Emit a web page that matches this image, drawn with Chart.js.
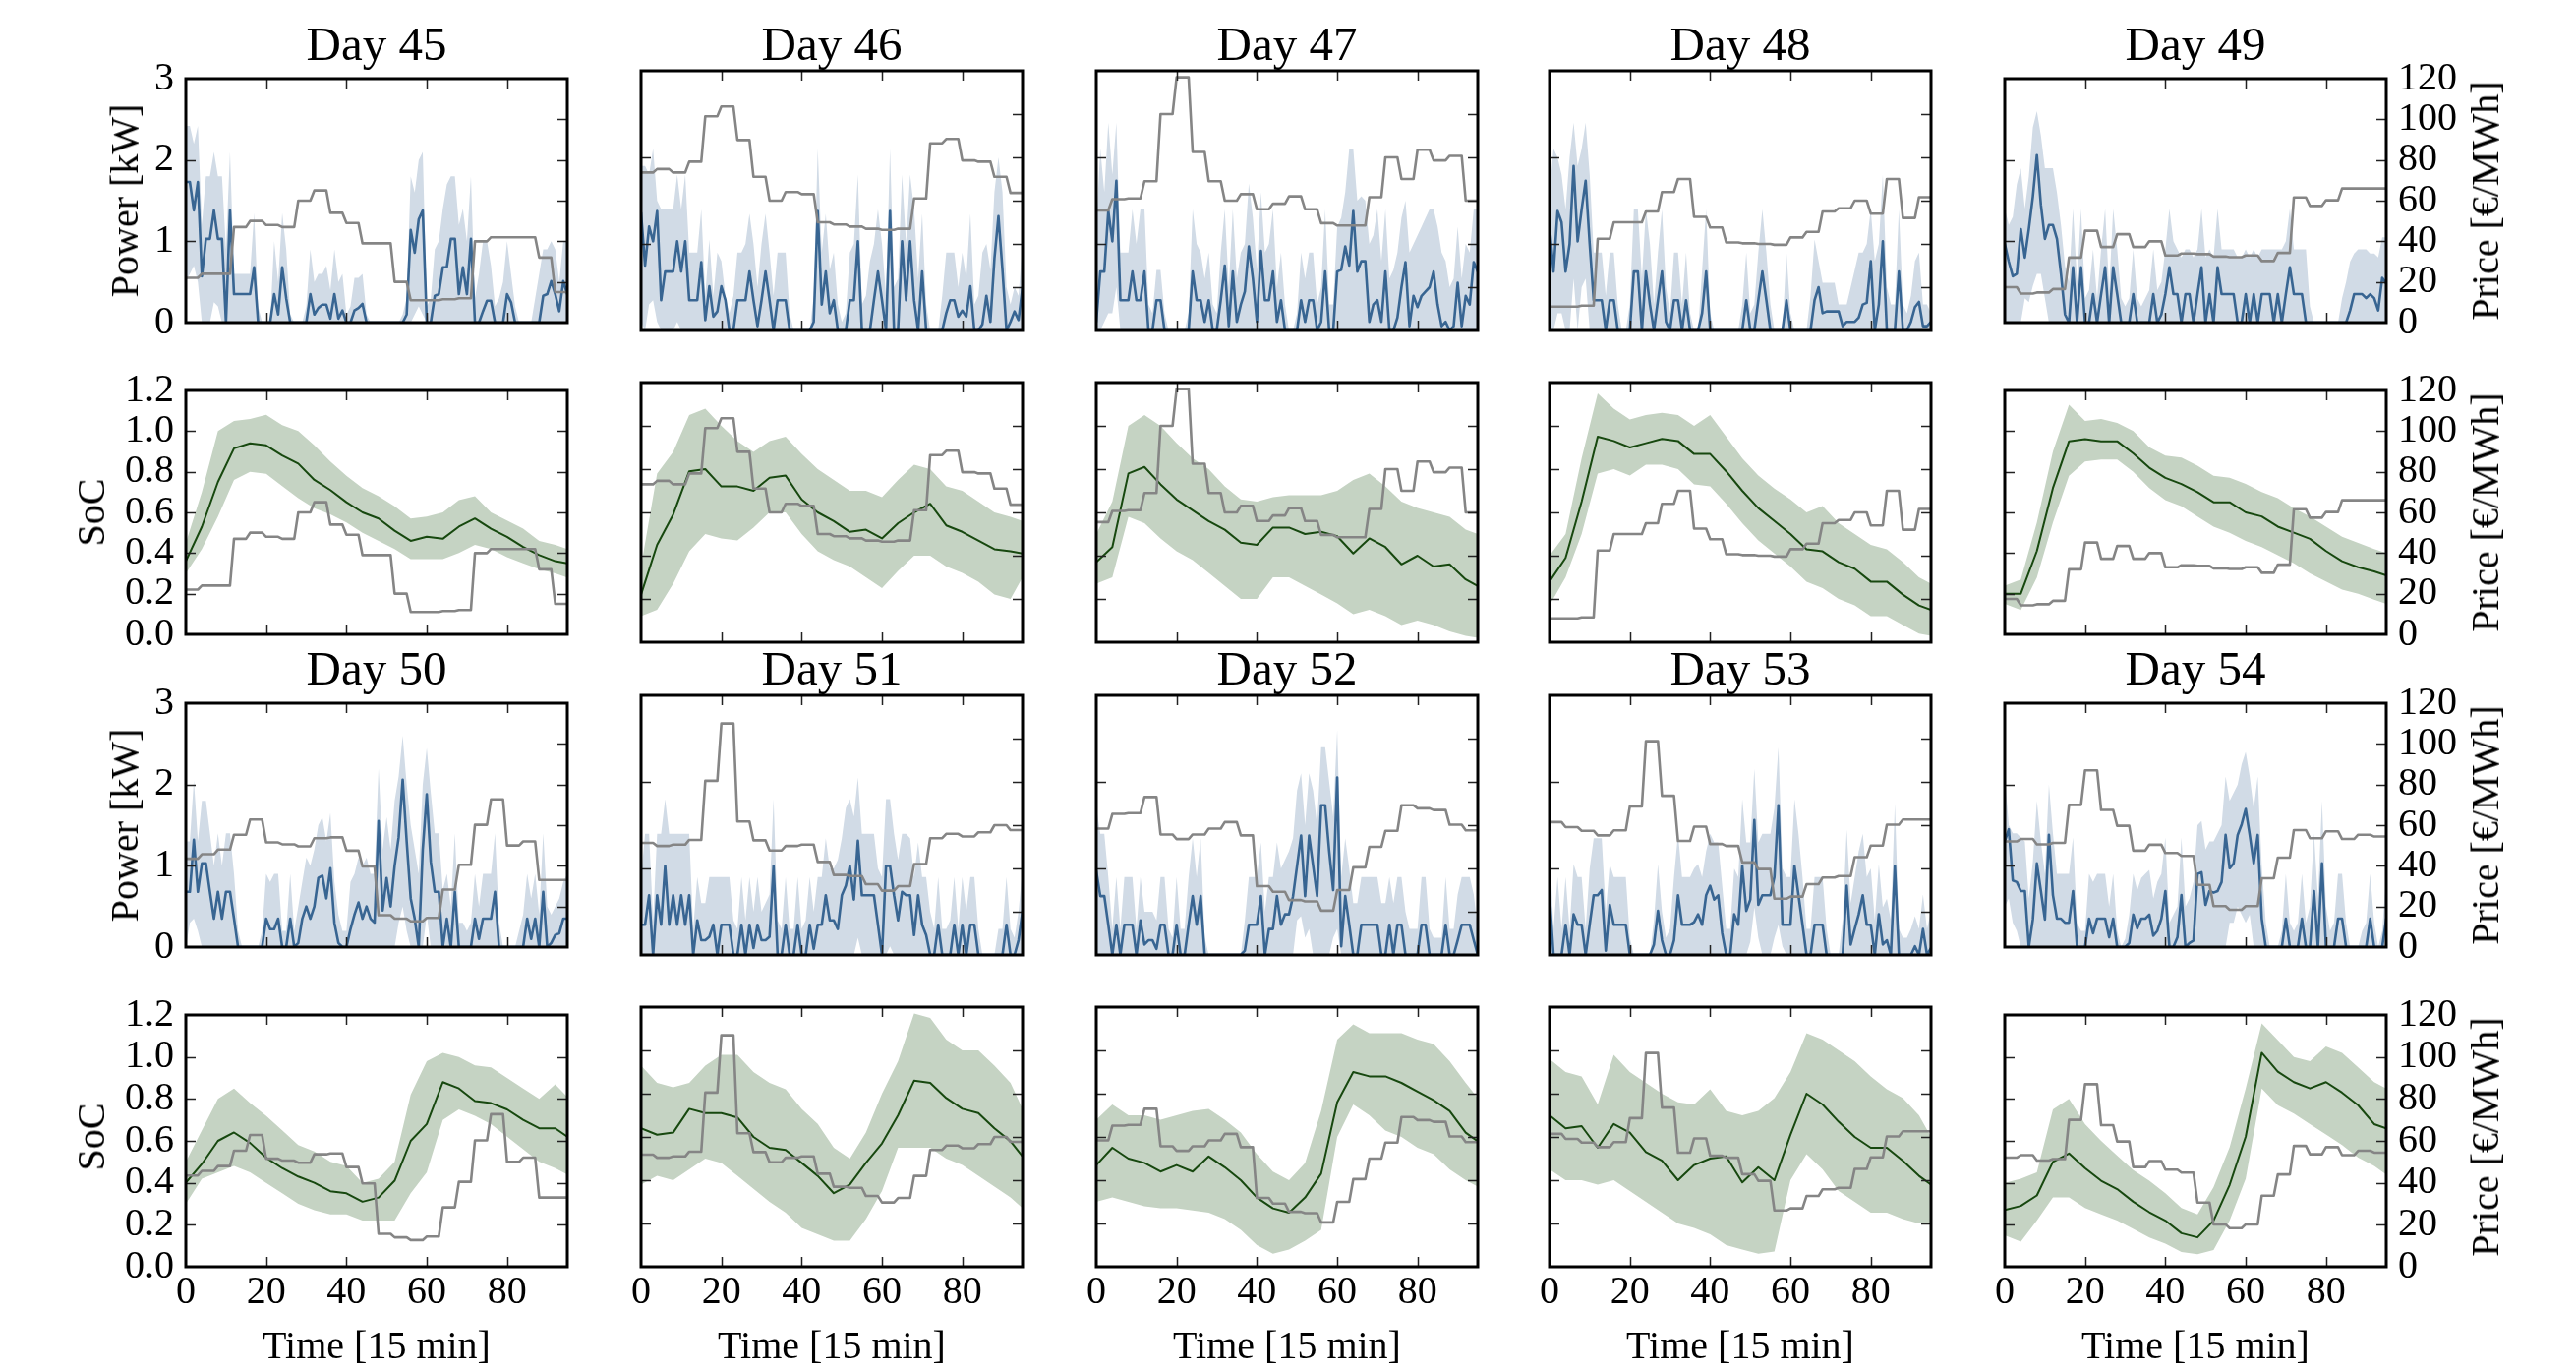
<!DOCTYPE html>
<html>
<head>
<meta charset="utf-8">
<script src="https://cdn.jsdelivr.net/npm/chart.js@4.4.1/dist/chart.umd.min.js"></script>
<style>
html, body { margin: 0; padding: 0; background: #fff; }
#fig { position: relative; width: 2620px; height: 1395px; overflow: hidden;
       font-family: 'Liberation Serif', 'Times New Roman', serif; color: #000; }
#fig canvas { position: absolute; }
.txt { position: absolute; white-space: nowrap; line-height: 1; transform: translate(-50%, -50%); }
.rot { transform: translate(-50%, -50%) rotate(-90deg); }
.ttl { font-size: 49px; }
.lbl { font-size: 40px; }
</style>
</head>
<body>
<div id="fig"></div>
<script>
// ---- data ----
// quarter-hour index for the SoC samples
const socX = [0,4,8,12,16,20,24,28,32,36,40,44,48,52,56,60,64,68,72,76,80,84,88,92,95];

// hourly prices [EUR/MWh]
const price45 = [22,24,24,47,50,48,47,60,65,54,49,39,39,20,11,11,11.5,12,40,42,42,42,32,15];
const price46 = [73,74.6,73,78,99,103.5,88,71,60,64,63,50,49,48,47,46.5,47,61,86.5,88.5,78.6,78,71,63.6];
const price47 = [55.5,60.7,61,69,100,117,82.5,69,60,63,56,58.6,62,56,49.6,48.5,48.5,61.6,80,70,83.5,78.6,80.7,60];
const price48 = [11,11,11.5,42.4,50,50,55,64,70,52.5,47.6,40.7,40.3,40,39.6,43,45.6,55,56.5,60,54,70,52,61.6];
const price49 = [17.4,14.3,14.8,16.5,32,45.2,37.2,43.5,37.2,40,33,34,33.7,32.5,32.2,33,30.3,34.3,61.6,57.4,60.2,66,66,66];
const price50 = [43.5,45.7,48,55.3,62.8,51.5,50.6,49.6,53.6,54,47.5,39.7,15.7,14,12.7,14.4,28.3,40.5,60.2,72.7,50,52,33,33];
const price51 = [51.8,50.4,51,53.2,80.5,107,61.7,53,48.3,50.4,51,43,37,36.5,32.7,29.7,31.8,42,54,56,54.8,56.7,60,57.7];
const price52 = [58.4,65.2,65.6,73,55.7,53.6,55.7,58.4,61.4,55.3,31.8,29.2,25.4,24.8,20.5,30,40.5,50,57.4,69.2,67.8,67,60.2,57.6];
const price53 = [61.4,59.1,57.4,55.3,57.6,68.7,98.8,73.6,52.7,59.3,51.3,50.4,42.8,39.7,26,27,32.7,35.8,36.5,45.2,50.6,60.2,62.6,62.6];
const price54 = [52,53.2,50.6,51.3,70,87,67.5,59.7,47.5,50.4,46.3,44.9,30.6,20.2,18.4,20.2,33.9,44,57.6,53.6,57,53.2,55.3,54.4];

// power [kW], mean and band, one value per quarter hour
const pow45 = [
1.73,1.73,1.38,1.73,0.57,1.03,1.03,1.38,1.03,1.03,0,1.38,
0.35,0.35,0.35,0.35,0.35,0.68,0,0,0,0,0.35,0.1,
0.68,0.3,0,0,0,0,0,0.35,0.1,0.18,0.22,0.22,
0.05,0.35,0.05,0.15,0,0,0.15,0.18,0.23,0,0,0,
0,0,0,0,0,0,0,0.1,1.14,0.86,1.27,1.38,
0,0,0.33,0.35,0.68,0.68,1.03,1.03,0.35,0.68,0.35,1.03,
0,0,0.14,0.27,0.27,0,0,0,0.35,0.25,0,0,
0,0,0,0,0,0.33,0.35,0.51,0.35,0.14,0.51,0.35];
const powHi45 = [
2.42,2.42,2.2,2.42,1.2,1.8,1.8,2.1,1.8,1.8,0.9,2.1,
0.6,0.6,0.6,0.6,0.6,1.35,0.2,0,0,0,1.0,0.5,
1.35,0.9,0.1,0,0,0,0.2,0.9,0.5,0.6,0.6,0.7,
0.4,0.9,0.5,0.6,0.1,0.2,0.55,0.55,0.6,0.1,0,0,
0,0,0,0,0,0,0.1,0.3,1.8,1.6,2.0,2.1,
0.2,0.3,0.9,1.0,1.4,1.7,1.8,1.8,1.2,1.4,1.0,1.8,
0.3,0.6,1.0,1.0,0.7,0.2,0.3,0.5,1.0,0.6,0.2,0,
0,0,0,0.3,0.6,0.9,0.9,1.0,0.9,0.5,1.0,1.0];
const powLo45 = [
0.5,0.6,0.7,0.5,0,0,0,0.25,0.2,0,0,0,
0,0,0,0,0,0,0,0,0,0,0,0,
0,0,0,0,0,0,0,0,0,0,0,0,
0,0,0,0,0,0,0,0,0,0,0,0,
0,0,0,0,0,0,0,0,0,0.1,0.2,0.1,
0,0,0,0,0,0,0,0,0,0,0,0,
0,0,0,0,0,0,0,0,0,0,0,0,
0,0,0,0,0,0,0,0,0,0,0,0];

const pow46 = [
1.36,0.75,1.2,1.03,1.38,0.35,0.68,0.68,0.68,1.03,0.68,1.03,
0.35,0.35,0.35,0.79,0.12,0.51,0.16,0.22,0.51,0.35,0,0,
0.35,0.35,0.35,0.68,0.35,0.05,0.35,0.68,0.35,0,0.35,0.35,
0.35,0,0,0,0,0,0,0.1,1.38,0.3,0.68,0.2,
0.35,0,0,0,0.35,0.35,1.03,0,0,0,0.35,0.68,
0.35,0,1.38,0,0,1.03,0.35,1.03,0.35,0,0.68,0,
0,0,0,0,0.2,0.35,0.35,0.16,0.23,0.16,0.51,0,
0,0.07,0.4,0.1,0.83,1.32,0.7,0,0.1,0.22,0.12,0.5];
const powHi46 = [
1.9,1.9,1.8,2.1,1.5,1.4,1.4,1.4,1.4,1.8,1.4,1.8,
0.9,0.9,0.9,1.4,0.4,1.05,0.4,0.9,0.8,0.4,0.2,0.4,
0.9,0.9,1.0,1.35,1.0,0.5,1.0,1.35,0.9,0.4,0.9,0.9,
0.9,0.2,0,0,0,0,0,0.4,2.1,0.9,1.35,0.7,
0.9,0.3,0.1,0.2,0.9,1.0,1.8,0.3,0.4,0.8,1.0,1.4,
1.0,0.4,2.1,0.5,0.6,1.8,1.0,1.8,1.4,0.6,1.35,0.3,
0,0,0,0.4,0.9,0.9,0.9,0.5,0.9,0.6,1.35,0.3,
0.4,0.9,1.0,0.7,1.6,2.0,1.6,0.5,0.3,0.5,0.4,1.0];
const powLo46 = [
0.1,0,0.3,0.35,0.1,0,0,0,0,0.1,0,0,
0,0,0,0,0,0,0,0,0,0,0,0,
0,0,0,0,0,0,0,0,0,0,0,0,
0,0,0,0,0,0,0,0,0,0,0,0,
0,0,0,0,0,0,0,0,0,0,0,0,
0,0,0,0,0,0,0,0,0,0,0,0,
0,0,0,0,0,0,0,0,0,0,0,0,
0,0,0,0,0,0,0,0,0,0,0,0];

const pow47 = [
0.1,0.68,0.68,1.38,1.03,1.73,0.35,0.35,0.35,0.68,0.35,0.35,
0.68,0,0,0.35,0.35,0,0,0,0,0,0,0,
0.68,0.35,0.35,0.1,0.35,0,0,0.35,0.75,0.05,0.68,0.1,
0.3,0.45,0.97,0.6,0.1,0.92,0.35,0.35,0.68,0.1,0.35,0,
0,0,0,0.35,0.1,0.35,0.35,0,0.1,0.68,0,0,
0.68,0.7,0.97,0.75,1.38,0.68,0.8,0.8,0.1,0.3,0.35,0.1,
0.68,0,0,0.15,0.5,0.79,0.05,0.4,0.27,0.4,0.45,0.5,
0.68,0.3,0.05,0.1,0,0.05,0.55,0.05,0.4,0.3,0.79,0.68];
const powHi47 = [
1.2,2.1,1.6,2.4,1.8,2.4,0.9,0.9,0.9,1.4,1.0,1.4,
1.4,0.3,0.2,0.7,0.7,0.2,0,0,0,0,0,0.2,
1.4,1.0,0.9,0.6,0.9,0.3,0.2,0.9,1.4,0.5,1.4,0.6,
0.9,1.0,1.7,1.3,0.7,1.6,0.9,1.0,1.4,0.5,0.9,0.3,
0,0,0.2,0.9,0.6,0.9,0.9,0.3,0.5,1.4,0.3,0.3,
1.2,1.3,1.6,2.1,2.1,1.5,1.55,1.5,1.0,1.1,1.4,0.8,
1.4,0.6,0.7,0.9,1.3,1.5,0.9,1.0,1.1,1.2,1.3,1.4,
1.4,1.2,0.9,0.8,0.5,0.6,1.2,0.6,1.0,0.9,1.4,1.4];
const powLo47 = [
0,0,0.1,0.2,0.2,0.5,0,0,0,0,0,0,
0,0,0,0,0,0,0,0,0,0,0,0,
0,0,0,0,0,0,0,0,0,0,0,0,
0,0,0,0,0,0,0,0,0,0,0,0,
0,0,0,0,0,0,0,0,0,0,0,0,
0,0,0,0,0,0,0,0,0,0,0,0,
0,0,0,0,0,0,0,0,0,0,0,0,
0,0,0,0,0,0,0,0,0,0,0,0];

const pow48 = [
1.2,0.68,1.38,1.25,0.68,1.0,1.9,1.03,1.4,1.73,1.0,0.35,
0.35,0.35,0,0.35,0.35,0,0,0,0,0.68,0.68,0,
0.68,0.3,0,0.35,0.68,0.1,0,0.35,0.35,0,0.35,0,
0,0,0.2,0.68,0,0,0,0,0,0,0,0,
0,0.35,0,0,0.35,0.68,0.35,0,0,0,0,0.35,
0,0,0,0,0,0,0.35,0.5,0.2,0.22,0.22,0.22,
0.22,0.05,0.1,0.1,0.1,0.15,0.3,0.32,0.8,0,0.3,1.03,
0,0,0,0.68,0,0,0.1,0.27,0.33,0.05,0.05,0.1];
const powHi48 = [
1.6,2.1,2.0,1.8,1.4,2.0,2.4,1.9,2.1,2.4,1.8,0.9,
0.9,0.9,0.4,0.9,0.9,0.3,0,0,0.3,1.4,1.4,0.6,
1.4,1.0,0.3,0.9,1.4,0.5,0.2,0.9,0.9,0.3,0.9,0.2,
0,0,0.7,1.4,0.2,0,0,0,0,0,0,0,
0.3,0.9,0.2,0.3,0.9,1.4,0.9,0.3,0,0,0,0.9,
0.2,0,0,0,0,0.4,1.05,0.8,0.55,0.55,0.55,0.55,
0.3,0.3,0.3,0.5,0.7,0.9,0.9,1.0,1.4,0.8,1.0,1.8,
0.5,0.3,0.3,1.4,0.3,0.2,0.4,0.8,0.9,0.3,0.3,0.2];
const powLo48 = [
0,0,0.2,0.2,0,0,0.6,0,0.5,0.6,0,0,
0,0,0,0,0,0,0,0,0,0,0,0,
0,0,0,0,0,0,0,0,0,0,0,0,
0,0,0,0,0,0,0,0,0,0,0,0,
0,0,0,0,0,0,0,0,0,0,0,0,
0,0,0,0,0,0,0,0,0,0,0,0,
0,0,0,0,0,0,0,0,0,0,0,0,
0,0,0,0,0,0,0,0,0,0,0,0];

const pow49 = [
0.97,0.75,0.57,0.6,1.15,0.8,1.15,1.55,2.06,1.45,1.03,1.2,
1.2,1.03,0.6,0.1,0,0.68,0,0.68,0,0,0.35,0,
0.35,0.68,0,0.68,0.35,0,0,0,0.35,0,0,0,
0,0.35,0,0.1,0.35,0.68,0.35,0.35,0,0.35,0.35,0,
0.35,0.68,0,0.35,0,0.68,0.35,0.35,0.35,0.35,0,0,
0.35,0,0.35,0,0.35,0.35,0.35,0,0.35,0,0.35,0.68,
0.35,0.35,0.35,0,0,0,0,0,0,0,0,0,
0,0,0.15,0.35,0.35,0.35,0.3,0.35,0.3,0.15,0.55,0.48];
const powHi49 = [
1.4,1.2,1.3,1.7,1.9,1.4,1.8,2.4,2.6,2.3,1.9,1.9,
1.9,1.6,1.2,0.7,0.5,1.4,0.5,1.4,0.3,0.4,0.9,0.3,
0.9,1.4,0.4,1.4,0.9,0.3,0.2,0.3,0.9,0.3,0.2,0.3,
0.4,0.9,0.4,0.5,0.9,1.4,1.0,0.9,0.8,0.9,0.9,0.8,
0.9,1.4,0.8,0.9,0.8,1.4,0.9,0.9,0.9,0.9,0.8,0.8,
0.9,0.8,0.9,0.8,0.9,0.9,0.9,0.9,0.9,0.9,1.0,1.4,
0.9,0.9,0.9,0.9,0.2,0,0,0,0,0,0,0,
0.3,0.5,0.75,0.85,0.9,0.9,0.9,0.85,0.85,0.8,1.05,1.05];
const powLo49 = [
0,0,0,0,0,0.3,0.25,0.45,0.6,0.6,0.3,0,
0,0,0,0,0,0,0,0,0,0,0,0,
0,0,0,0,0,0,0,0,0,0,0,0,
0,0,0,0,0,0,0,0,0,0,0,0,
0,0,0,0,0,0,0,0,0,0,0,0,
0,0,0,0,0,0,0,0,0,0,0,0,
0,0,0,0,0,0,0,0,0,0,0,0,
0,0,0,0,0,0,0,0,0,0,0,0];

const pow50 = [
0.68,0.68,1.32,0.68,1.03,1.03,0.68,0.35,0.68,0.35,0.68,0.68,
0.35,0,0,0,0,0,0,0,0.35,0.22,0.22,0.35,
0,0,0.35,0,0.05,0.35,0.5,0.35,0.5,0.85,0.88,0.6,
0.97,0.3,0.05,0,0,0.22,0.4,0.55,0.35,0.5,0.35,0.3,
1.55,0.45,0.85,0.5,1.0,1.35,2.06,1.3,0.6,0.35,0,1.2,
1.88,1.05,0.68,0.68,0,0.35,0,0.68,0,0,0,0,
0.35,0.1,0.35,0.35,0.35,0.68,0,0,0,0,0,0,
0,0.35,0.1,0.35,0,0.68,0,0.05,0.15,0.17,0.35,0.35];
const powHi50 = [
1.3,1.3,2.05,1.3,1.8,1.8,1.4,1.0,1.4,1.0,1.4,1.4,
0.9,0.2,0,0,0,0,0,0.2,0.9,0.8,0.9,0.9,
0.2,0.2,0.9,0.2,0.5,0.8,1.1,1.0,1.2,1.5,1.6,1.3,
1.65,0.8,0.4,0.2,0.2,0.8,0.9,1.1,1.0,1.1,0.9,0.9,
2.2,1.2,1.6,1.2,1.8,2.1,2.6,2.0,1.5,1.2,0.9,2.0,
2.45,1.9,1.4,1.4,0.7,0.9,0.5,1.4,0.3,0.3,0.2,0.3,
0.9,0.5,0.9,0.9,0.9,1.4,0.3,0,0,0,0,0.2,
0.4,0.9,0.6,0.9,0.4,1.4,0.5,0.4,0.5,0.6,0.8,0.9];
const powLo50 = [
0,0.3,0.35,0.2,0,0,0,0,0,0,0,0,
0,0,0,0,0,0,0,0,0,0,0,0,
0,0,0,0,0,0,0,0,0,0,0,0,
0,0,0,0,0,0,0,0,0,0,0,0,
0,0,0,0,0,0.3,0.5,0.2,0,0,0,0,
0.4,0,0,0,0,0,0,0,0,0,0,0,
0,0,0,0,0,0,0,0,0,0,0,0,
0,0,0,0,0,0,0,0,0,0,0,0];

const pow51 = [
0.35,0.35,0.69,0,0.69,0.35,1.03,0.35,0.69,0.35,0.69,0.35,
0.69,0,0.4,0.17,0.17,0.21,0.35,0,0.35,0.35,0.35,0,
0,0.35,0,0.35,0.08,0.35,0.17,0.17,0.21,1.03,0,0,
0.35,0,0,0.35,0,0,0.35,0.07,0.35,0.35,0.69,0.4,
0.4,0.3,0.69,0.8,1.03,0.64,1.32,0.69,0.69,0.69,0.69,0.35,
0,1.03,1.03,0.69,0.4,0.73,0.69,0.69,0.23,0.69,0.35,0.23,
0,0,0.35,0,0,0,0.35,0,0.35,0,0.35,0.35,
0,0,0,0,0,0,0,0.35,0,0,0.17,0.51];
const powHi51 = [
0.9,1.4,1.4,0.4,1.4,1.4,1.8,1.4,1.4,1.4,1.4,1.4,
1.4,0.3,0.9,0.6,0.6,0.9,0.9,0.9,0.9,0.9,0.9,0.4,
0.3,0.9,0.4,0.9,0.5,0.9,0.5,0.6,0.7,1.8,0.4,0.3,
0.9,0.3,0.3,0.9,0.3,0.4,0.9,0.5,0.9,0.9,1.35,1.0,
1.0,1.1,1.35,1.7,1.8,1.6,2.05,1.4,1.4,1.4,1.4,1.0,
0.9,1.8,1.8,1.4,1.1,1.4,1.4,1.35,0.9,1.3,0.9,0.9,
0.5,0.3,0.9,0.3,0.3,0.4,0.9,0.3,0.9,0.5,0.9,0.9,
0.3,0,0,0,0,0.3,0.3,0.9,0.3,0.2,0.5,1.0];
const powLo51 = [
0,0,0,0,0,0,0,0,0,0,0,0,
0,0,0,0,0,0,0,0,0,0,0,0,
0,0,0,0,0,0,0,0,0,0,0,0,
0,0,0,0,0,0,0,0,0,0,0,0,
0,0,0,0,0,0,0.2,0,0,0,0,0,
0,0,0.1,0,0,0,0,0,0,0,0,0,
0,0,0,0,0,0,0,0,0,0,0,0,
0,0,0,0,0,0,0,0,0,0,0,0];

const pow52 = [
0.97,0.68,0.68,0.35,0,0.35,0,0.35,0.35,0.35,0,0.4,
0.12,0.17,0.17,0.07,0.35,0.35,0,0,0.35,0,0,0.35,
0.68,0.35,0.68,0,0,0,0,0,0,0,0,0,
0,0.05,0.35,0.35,0.35,0.68,0,0.3,0.3,0.68,0.35,0.47,
0.47,0.68,1.03,1.38,0.68,1.38,1.03,0.68,1.73,1.73,1.2,0.75,
2.05,0.1,0.68,0.35,0,0,0.35,0.35,0.35,0.35,0.35,0,
0,0.35,0,0.35,0.35,0,0,0,0,0.35,0.35,0,
0,0,0,0.35,0,0,0.17,0.35,0.35,0.35,0.17,0];
const powHi52 = [
1.7,1.4,1.4,0.9,0.3,0.9,0.3,0.9,0.9,0.9,0.3,0.9,
0.5,0.5,0.5,0.4,0.9,0.9,0.3,0.2,0.9,0.3,0.3,0.9,
1.35,0.9,1.35,0.2,0,0,0,0,0,0,0,0,
0,0.4,0.9,0.9,0.9,1.3,0.5,0.9,0.9,1.3,1.0,1.1,
1.2,1.35,1.9,2.1,1.5,2.1,1.9,1.5,2.4,2.4,2.0,1.6,
2.6,0.9,1.35,1.0,0.6,0.6,0.9,0.9,0.9,0.9,0.9,0.6,
0.6,0.9,0.6,0.9,0.9,0.5,0.3,0.3,0.3,0.9,0.9,0.3,
0.2,0.2,0.2,0.9,0.3,0.3,0.7,0.9,0.9,0.9,0.7,0.3];
const powLo52 = [
0,0,0,0,0,0,0,0,0,0,0,0,
0,0,0,0,0,0,0,0,0,0,0,0,
0,0,0,0,0,0,0,0,0,0,0,0,
0,0,0,0,0,0,0,0,0,0,0,0,
0,0,0.4,0.45,0.2,0.3,0,0,0,0,0,0.2,
0.3,0,0,0,0,0,0,0,0,0,0,0,
0,0,0,0,0,0,0,0,0,0,0,0,
0,0,0,0,0,0,0,0,0,0,0,0];

const pow53 = [
0.69,0,0,0,0.35,0,0.47,0.35,0.35,0,0.35,0.69,
0.69,0.75,0.05,0.58,0.35,0.35,0.35,0.35,0,0,0,0,
0,0,0.12,0.51,0.17,0,0,0.17,0.69,0.35,0.35,0.35,
0.38,0.47,0.35,0.69,0.8,0.64,0.69,0.25,0,0,0.47,0.35,
1.03,0.51,0.64,1.56,0.58,0.69,0.69,0.69,0.9,1.73,0.35,0.35,
0.35,1.03,0.69,0.35,0,0,0.35,0.35,0.35,0,0,0,
0,0,0.8,0.12,0.3,0.47,0.69,0.35,0.35,0,0.47,0.12,
0.17,0,1.03,0,0,0,0,0.1,0,0.3,0,0.08];
const powHi53 = [
1.3,0.3,0.9,0.3,0.9,0.3,1.05,0.9,0.9,0.3,1.0,1.35,
1.35,1.35,0.5,1.05,0.9,0.9,0.9,0.9,0.2,0,0,0,
0,0,0.4,1.05,0.5,0.2,0.3,0.9,1.4,0.9,0.9,0.9,
1.0,1.05,0.9,1.2,1.4,1.3,1.3,0.8,0.3,0.3,1.0,0.9,
1.8,1.3,1.3,2.15,1.3,1.4,1.4,1.4,1.7,2.4,1.0,0.9,
0.9,1.8,1.4,0.9,0.3,0.3,0.9,0.9,0.9,0.3,0,0,
0,0.4,1.45,0.6,0.9,1.2,1.4,0.9,1.0,0.4,1.05,0.55,
0.65,0.4,1.75,0.3,0.2,0.2,0.3,0.45,0.3,0.7,0.3,0.5];
const powLo53 = [
0,0,0,0,0,0,0,0,0,0,0,0,
0,0,0,0,0,0,0,0,0,0,0,0,
0,0,0,0,0,0,0,0,0,0,0,0,
0,0,0,0,0,0,0,0,0,0,0,0,
0,0,0.15,0.55,0.2,0,0,0,0.2,0.35,0.1,0,
0,0,0,0,0,0,0,0,0,0,0,0,
0,0,0,0,0,0,0,0,0,0,0,0,
0,0,0,0,0,0,0,0,0,0,0,0];

const pow54 = [
1.3,1.45,0.82,0.8,0.69,0.69,0,0.34,1.03,0.69,0.34,1.38,
0.64,0.35,0.35,0.3,0.3,0.69,0,0,0,0.35,0.17,0.35,
0.35,0.35,0.12,0.35,0,0,0,0.05,0.4,0.23,0.35,0.35,
0.4,0.14,0.2,0.35,0.69,0,0,0.12,0.64,0,0.05,0.08,
0.9,0.92,0.52,0.69,0.67,0.69,0.8,1.38,0.97,1.03,1.38,1.51,
1.7,1.38,1.03,1.38,0.35,0,0,0,0,0,0.35,0,
0,0,0.35,0,0,0.69,0,1.03,0,0,0,0.35,
0.35,0,0,0,0,0,0,0.35,0,0,0,0.35];
const powHi54 = [
2.1,1.5,1.4,1.4,1.35,1.3,0.6,1.05,1.8,1.3,0.9,2.0,
1.4,0.9,0.9,0.9,0.9,1.35,0.3,0.2,0.2,0.9,0.8,0.9,
0.9,0.9,0.5,0.9,0.2,0,0.1,0.4,0.9,0.7,0.85,0.9,
0.95,0.6,0.8,0.9,1.35,0.3,0.4,0.5,1.35,0.5,0.6,0.8,
1.5,1.55,1.2,1.3,1.3,1.4,1.5,2.1,1.8,1.9,2.0,2.25,
2.4,2.1,1.7,2.1,1.0,0.3,0,0,0,0.2,0.9,0.3,
0.2,0.3,0.9,0.3,0.5,1.4,0.6,1.8,0.5,0.2,0.3,0.9,
0.9,0.3,0,0,0,0.2,0.3,0.9,0.3,0,0.2,0.9];
const powLo54 = [
0.5,0.6,0.3,0.2,0,0,0,0,0,0,0,0,
0,0,0,0,0,0,0,0,0,0,0,0,
0,0,0,0,0,0,0,0,0,0,0,0,
0,0,0,0,0,0,0,0,0,0,0,0,
0,0,0,0,0,0,0,0,0.3,0.3,0.5,0.4,
0.3,0.4,0,0,0,0,0,0,0,0,0,0,
0,0,0,0,0,0,0,0,0,0,0,0,
0,0,0,0,0,0,0,0,0,0,0,0];

// state of charge, mean and band, sampled at socX
const soc45 = [0.36,0.53,0.75,0.915,0.94,0.93,0.88,0.84,0.76,0.71,0.65,0.6,0.57,0.51,0.46,0.48,0.47,0.53,0.57,0.52,0.48,0.43,0.39,0.36,0.35];
const socHi45 = [0.45,0.7,1.0,1.05,1.06,1.08,1.03,1.0,0.93,0.85,0.78,0.72,0.68,0.63,0.57,0.58,0.6,0.66,0.68,0.6,0.56,0.52,0.46,0.44,0.42];
const socLo45 = [0.3,0.42,0.58,0.76,0.8,0.79,0.73,0.67,0.62,0.59,0.55,0.5,0.46,0.42,0.37,0.37,0.37,0.4,0.44,0.42,0.38,0.35,0.32,0.3,0.28];
const soc46 = [0.22,0.45,0.59,0.79,0.8,0.72,0.72,0.7,0.76,0.77,0.66,0.6,0.56,0.51,0.52,0.48,0.55,0.6,0.64,0.54,0.51,0.47,0.43,0.42,0.41];
const socHi46 = [0.35,0.78,0.88,1.05,1.08,1.0,0.93,0.88,0.93,0.95,0.87,0.8,0.75,0.7,0.7,0.67,0.75,0.82,0.8,0.72,0.7,0.65,0.6,0.58,0.56];
const socLo46 = [0.12,0.15,0.27,0.42,0.5,0.48,0.47,0.53,0.6,0.6,0.5,0.42,0.38,0.35,0.3,0.25,0.33,0.4,0.4,0.35,0.32,0.28,0.22,0.2,0.3];
const soc47 = [0.37,0.44,0.78,0.81,0.73,0.66,0.61,0.56,0.52,0.46,0.45,0.53,0.53,0.5,0.51,0.49,0.41,0.48,0.44,0.36,0.4,0.35,0.36,0.29,0.26];
const socHi47 = [0.5,0.65,1.0,1.05,1.0,0.92,0.85,0.8,0.72,0.66,0.65,0.67,0.68,0.68,0.68,0.7,0.75,0.78,0.72,0.65,0.62,0.6,0.58,0.52,0.5];
const socLo47 = [0.27,0.3,0.58,0.55,0.48,0.42,0.38,0.32,0.26,0.2,0.2,0.3,0.3,0.26,0.22,0.18,0.13,0.15,0.12,0.08,0.1,0.08,0.05,0.03,0.02];
const soc48 = [0.28,0.39,0.65,0.95,0.93,0.9,0.92,0.94,0.93,0.87,0.87,0.79,0.7,0.62,0.56,0.5,0.43,0.42,0.37,0.34,0.28,0.28,0.22,0.17,0.15];
const socHi48 = [0.4,0.5,0.85,1.15,1.08,1.03,1.05,1.06,1.05,1.0,1.05,0.95,0.85,0.77,0.71,0.66,0.6,0.63,0.55,0.5,0.45,0.43,0.37,0.3,0.27];
const socLo48 = [0.17,0.3,0.5,0.78,0.8,0.77,0.82,0.82,0.8,0.73,0.72,0.64,0.55,0.47,0.41,0.35,0.28,0.25,0.2,0.17,0.12,0.12,0.08,0.04,0.03];
const soc49 = [0.2,0.2,0.41,0.72,0.95,0.96,0.95,0.95,0.89,0.82,0.77,0.74,0.7,0.65,0.65,0.6,0.58,0.53,0.5,0.47,0.41,0.36,0.33,0.31,0.29];
const socHi49 = [0.24,0.27,0.55,0.9,1.13,1.05,1.06,1.04,1.0,0.92,0.88,0.87,0.83,0.78,0.77,0.74,0.7,0.67,0.62,0.58,0.53,0.48,0.45,0.42,0.4];
const socLo49 = [0.15,0.12,0.28,0.55,0.78,0.85,0.86,0.86,0.8,0.72,0.66,0.63,0.58,0.53,0.5,0.46,0.43,0.39,0.35,0.3,0.26,0.22,0.2,0.17,0.15];
const soc50 = [0.4,0.49,0.6,0.64,0.59,0.52,0.47,0.43,0.4,0.36,0.35,0.31,0.33,0.41,0.6,0.68,0.88,0.85,0.79,0.78,0.75,0.7,0.66,0.66,0.62];
const socHi50 = [0.5,0.65,0.8,0.85,0.78,0.72,0.65,0.58,0.55,0.5,0.48,0.4,0.42,0.5,0.82,0.98,1.02,1.0,0.96,0.95,0.9,0.85,0.8,0.87,0.81];
const socLo50 = [0.3,0.42,0.45,0.48,0.45,0.4,0.35,0.3,0.27,0.25,0.25,0.22,0.22,0.22,0.35,0.45,0.7,0.75,0.72,0.68,0.62,0.56,0.5,0.47,0.44];
const soc51 = [0.64,0.61,0.62,0.73,0.71,0.71,0.69,0.6,0.55,0.54,0.48,0.42,0.34,0.38,0.48,0.57,0.7,0.86,0.85,0.78,0.73,0.71,0.64,0.58,0.51];
const socHi51 = [0.93,0.85,0.83,0.85,0.93,0.98,0.98,0.9,0.85,0.82,0.73,0.66,0.55,0.5,0.62,0.8,0.95,1.17,1.15,1.05,1.0,1.0,0.93,0.85,0.73];
const socLo51 = [0.38,0.42,0.4,0.45,0.5,0.48,0.42,0.36,0.3,0.25,0.18,0.15,0.12,0.12,0.22,0.35,0.55,0.55,0.55,0.5,0.47,0.42,0.37,0.32,0.27];
const soc52 = [0.47,0.55,0.5,0.48,0.44,0.47,0.44,0.51,0.46,0.4,0.32,0.27,0.25,0.32,0.43,0.76,0.9,0.88,0.88,0.85,0.81,0.77,0.72,0.62,0.58];
const socHi52 = [0.68,0.75,0.7,0.7,0.68,0.7,0.72,0.73,0.68,0.62,0.52,0.44,0.4,0.48,0.72,1.05,1.12,1.08,1.08,1.08,1.05,1.03,0.95,0.85,0.78];
const socLo52 = [0.3,0.32,0.3,0.28,0.27,0.27,0.26,0.25,0.22,0.17,0.1,0.06,0.08,0.12,0.17,0.6,0.75,0.7,0.63,0.6,0.55,0.52,0.45,0.4,0.37];
const soc53 = [0.7,0.64,0.65,0.55,0.66,0.62,0.53,0.49,0.4,0.47,0.5,0.51,0.39,0.46,0.4,0.61,0.8,0.75,0.67,0.6,0.55,0.55,0.49,0.42,0.38];
const socHi53 = [0.96,0.9,0.88,0.75,0.98,0.9,0.85,0.8,0.76,0.75,0.82,0.72,0.7,0.72,0.78,0.9,1.08,1.05,1.0,0.95,0.88,0.82,0.78,0.7,0.6];
const socLo53 = [0.45,0.4,0.4,0.38,0.4,0.35,0.3,0.25,0.2,0.18,0.15,0.1,0.08,0.06,0.07,0.4,0.52,0.45,0.35,0.3,0.25,0.25,0.22,0.2,0.2];
const soc54 = [0.27,0.29,0.34,0.5,0.54,0.47,0.41,0.37,0.31,0.26,0.22,0.16,0.14,0.22,0.39,0.62,1.02,0.93,0.88,0.85,0.88,0.83,0.77,0.68,0.66];
const socHi54 = [0.4,0.42,0.45,0.75,0.8,0.68,0.6,0.53,0.46,0.41,0.35,0.28,0.25,0.38,0.57,0.85,1.16,1.08,1.0,0.98,1.05,1.02,0.95,0.88,0.85];
const socLo54 = [0.15,0.12,0.22,0.33,0.33,0.28,0.25,0.22,0.18,0.14,0.11,0.07,0.06,0.08,0.22,0.42,0.85,0.77,0.73,0.68,0.63,0.58,0.52,0.48,0.44];

const days = [45, 46, 47, 48, 49, 50, 51, 52, 53, 54];
const dayData = {
  45: {price: price45, pow: pow45, powHi: powHi45, powLo: powLo45, soc: soc45, socHi: socHi45, socLo: socLo45},
  46: {price: price46, pow: pow46, powHi: powHi46, powLo: powLo46, soc: soc46, socHi: socHi46, socLo: socLo46},
  47: {price: price47, pow: pow47, powHi: powHi47, powLo: powLo47, soc: soc47, socHi: socHi47, socLo: socLo47},
  48: {price: price48, pow: pow48, powHi: powHi48, powLo: powLo48, soc: soc48, socHi: socHi48, socLo: socLo48},
  49: {price: price49, pow: pow49, powHi: powHi49, powLo: powLo49, soc: soc49, socHi: socHi49, socLo: socLo49},
  50: {price: price50, pow: pow50, powHi: powHi50, powLo: powLo50, soc: soc50, socHi: socHi50, socLo: socLo50},
  51: {price: price51, pow: pow51, powHi: powHi51, powLo: powLo51, soc: soc51, socHi: socHi51, socLo: socLo51},
  52: {price: price52, pow: pow52, powHi: powHi52, powLo: powLo52, soc: soc52, socHi: socHi52, socLo: socLo52},
  53: {price: price53, pow: pow53, powHi: powHi53, powLo: powLo53, soc: soc53, socHi: socHi53, socLo: socLo53},
  54: {price: price54, pow: pow54, powHi: powHi54, powLo: powLo54, soc: soc54, socHi: socHi54, socLo: socLo54}
};

// ---- layout ----
const fig = document.getElementById('fig');
const colLeft = [189, 652, 1115, 1576, 2039];
const rowTop = [72, 389, 707, 1024];
const PW = 388, PH = 264;
const ML = 120, MR = 120, MT = 28;
const FONT = "'Liberation Serif', 'Times New Roman', serif";
const TICK = 10;

const BAND_P = '#d1dbe6', LINE_P = '#386592';
const BAND_S = '#c5d3c3', LINE_S = '#17480f';
const PRICE = '#858585';

Chart.defaults.font.family = FONT;
Chart.defaults.color = '#000';

function series(vals, xs) {
  return vals.map((v, i) => ({x: xs ? xs[i] : i, y: v}));
}
function priceSeries(p) {
  const out = [];
  p.forEach((v, h) => { for (let k = 0; k < 4; k++) out.push({x: h * 4 + k, y: v}); });
  return out;
}

// frame + inward ticks, like the classic matplotlib look
const innerTicks = {
  id: 'innerTicks',
  afterDraw(chart) {
    const {ctx, chartArea: a, scales} = chart;
    ctx.save();
    ctx.strokeStyle = '#222';
    ctx.lineWidth = 1.5;
    ctx.beginPath();
    scales.x.ticks.forEach(t => {
      if (t.value <= scales.x.min || t.value >= scales.x.max) return;
      const px = Math.round(scales.x.getPixelForValue(t.value)) + 0.5;
      ctx.moveTo(px, a.top); ctx.lineTo(px, a.top + TICK);
      ctx.moveTo(px, a.bottom); ctx.lineTo(px, a.bottom - TICK);
    });
    scales.y.ticks.forEach(t => {
      if (t.value <= scales.y.min + 1e-9 || t.value >= scales.y.max - 1e-9) return;
      const py = Math.round(scales.y.getPixelForValue(t.value)) + 0.5;
      ctx.moveTo(a.left, py); ctx.lineTo(a.left + TICK, py);
    });
    scales.y2.ticks.forEach(t => {
      if (t.value <= scales.y2.min || t.value >= scales.y2.max) return;
      const py = Math.round(scales.y2.getPixelForValue(t.value)) + 0.5;
      ctx.moveTo(a.right, py); ctx.lineTo(a.right - TICK, py);
    });
    ctx.stroke();
    ctx.lineWidth = 3;
    ctx.strokeStyle = '#000';
    ctx.strokeRect(a.left, a.top, a.right - a.left, a.bottom - a.top);
    ctx.restore();
  }
};

function makePanel(row, col, day) {
  const d = dayData[day];
  const isPow = row % 2 === 0;
  const MB = row === 3 ? 72 : 28;
  const cv = document.createElement('canvas');
  cv.width = PW + ML + MR;
  cv.height = PH + MT + MB;
  cv.style.left = (colLeft[col] - ML) + 'px';
  cv.style.top = (rowTop[row] - MT) + 'px';
  fig.appendChild(cv);

  const mean = isPow ? series(d.pow) : series(d.soc, socX);
  const hi = isPow ? series(d.powHi) : series(d.socHi, socX);
  const lo = isPow ? series(d.powLo) : series(d.socLo, socX);
  const tickFont = {family: FONT, size: 40};

  new Chart(cv, {
    type: 'line',
    data: {
      datasets: [
        {data: priceSeries(d.price), yAxisID: 'y2', borderColor: PRICE, borderWidth: 2.6, fill: false},
        {data: mean, yAxisID: 'y', borderColor: isPow ? LINE_P : LINE_S, borderWidth: isPow ? 2.6 : 2, fill: false},
        {data: hi, yAxisID: 'y', borderWidth: 0, borderColor: 'rgba(0,0,0,0)',
         backgroundColor: isPow ? BAND_P : BAND_S, fill: '+1'},
        {data: lo, yAxisID: 'y', borderWidth: 0, borderColor: 'rgba(0,0,0,0)', fill: false}
      ]
    },
    options: {
      responsive: false,
      animation: false,
      devicePixelRatio: 1,
      parsing: false,
      normalized: true,
      layout: {padding: {top: MT, left: 0, right: 0, bottom: 0}, autoPadding: false},
      elements: {
        point: {radius: 0, hoverRadius: 0},
        line: {tension: 0, borderJoinStyle: 'round', borderCapStyle: 'round'}
      },
      datasets: {line: {clip: 0}},
      plugins: {legend: {display: false}, tooltip: {enabled: false}},
      events: [],
      scales: {
        x: {
          type: 'linear', min: 0, max: 95,
          afterFit: s => { s.height = MB; },
          grid: {display: false, drawTicks: false},
          border: {display: false},
          ticks: {display: row === 3, stepSize: 20, includeBounds: false, padding: 2,
                  maxRotation: 0, autoSkip: false, color: '#000', font: tickFont}
        },
        y: {
          type: 'linear', position: 'left', min: 0, max: isPow ? 3 : 1.2,
          afterFit: s => { s.width = ML; },
          grid: {display: false, drawTicks: false},
          border: {display: false},
          ticks: {display: col === 0, stepSize: isPow ? 1 : 0.2, autoSkip: false, padding: 12,
                  color: '#000', font: tickFont,
                  callback: v => isPow ? String(v) : Number(v).toFixed(1)}
        },
        y2: {
          type: 'linear', position: 'right', min: 0, max: 120,
          afterFit: s => { s.width = MR; },
          grid: {display: false, drawTicks: false},
          border: {display: false},
          ticks: {display: col === 4, stepSize: 20, autoSkip: false, padding: 12,
                  color: '#000', font: tickFont}
        }
      }
    },
    plugins: [innerTicks]
  });
}

function addText(txt, x, y, cls) {
  const el = document.createElement('div');
  el.className = 'txt ' + cls;
  el.textContent = txt;
  el.style.left = x + 'px';
  el.style.top = y + 'px';
  fig.appendChild(el);
}

function build() {
  // panels: rows 0/1 -> days 45..49, rows 2/3 -> days 50..54
  for (let row = 0; row < 4; row++) {
    for (let col = 0; col < 5; col++) {
      const day = days[(row < 2 ? 0 : 5) + col];
      makePanel(row, col, day);
      if (row % 2 === 0) addText('Day ' + day, colLeft[col] + PW / 2, rowTop[row] - 28, 'ttl');
    }
    const cy = rowTop[row] + PH / 2;
    if (row % 2 === 0) addText('Power [kW]', colLeft[0] - 62, cy, 'lbl rot');
    else addText('SoC', colLeft[0] - 96, cy, 'lbl rot');
    addText('Price [€/MWh]', colLeft[4] + PW + 101, cy, 'lbl rot');
  }
  for (let col = 0; col < 5; col++) {
    addText('Time [15 min]', colLeft[col] + PW / 2, rowTop[3] + PH + 80, 'lbl');
  }
}

// make sure the serif face is ready before the canvases draw text
if (document.fonts && document.fonts.load) {
  document.fonts.load('40px "Liberation Serif"').then(build, build);
} else {
  build();
}
</script>
</body>
</html>
